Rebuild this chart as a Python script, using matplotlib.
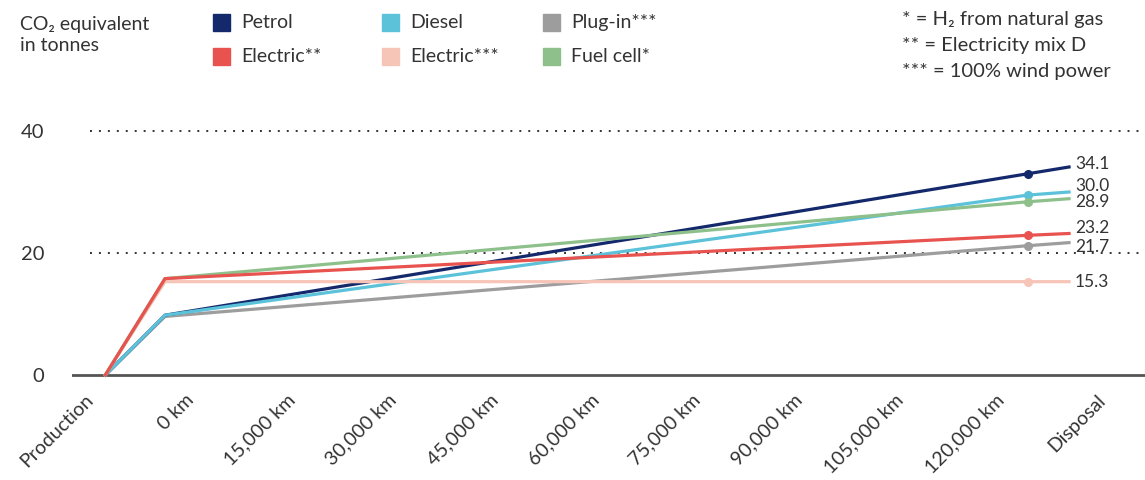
import numpy as np
import matplotlib.pyplot as plt
from matplotlib.patches import Rectangle

plt.rcParams['font.family'] = ['Lato', 'DejaVu Sans']
plt.rcParams['text.color'] = '#333333'

# life-cycle stages on the x axis (thousands of km; production and disposal sit just outside the use phase)
stage_x = [-8.3, 0, 120, 125.7]

# CO2 equivalent in tonnes at each stage
petrol = [0, 9.8, 33.0, 34.1]
diesel = [0, 9.8, 29.5, 30.0]
plugin = [0, 9.6, 21.2, 21.7]
electric_mix = [0, 15.8, 22.9, 23.2]
electric_wind = [0, 15.3, 15.3, 15.3]
fuel_cell = [0, 15.8, 28.4, 28.9]

tick_labels = ['Production', '0 km', '15,000 km', '30,000 km', '45,000 km', '60,000 km',
               '75,000 km', '90,000 km', '105,000 km', '120,000 km', 'Disposal']

series = [
    # name, values, colour, label offset
    ('Plug-in***', plugin, '#9d9d9d', -0.7),
    ('Petrol', petrol, '#13296b', 0.5),
    ('Diesel', diesel, '#5bc2da', 1.0),
    ('Electric***', electric_wind, '#f7c4b8', 0.0),
    ('Fuel cell*', fuel_cell, '#8dc08b', -0.5),
    ('Electric**', electric_mix, '#e8534f', 0.9),
]

fig = plt.figure(figsize=(11.45, 4.8), dpi=100)
px = 1 / 7.192  # data units per pixel along x
ax = fig.add_axes([72 / 1145, 100 / 480, 1 - 72 / 1145, 280 / 480])
ax.set_xlim(-93 * px, 980 * px)
ax.set_ylim(-5 / 6.1, 275 / 6.1)
for s in ax.spines.values():
    s.set_visible(False)

# dotted gridlines and solid zero line
ax.hlines([20, 40], -75 * px, 977 * px, colors='#333333',
          linestyles=(0, (1, 3.6)), lw=1.4)
ax.axhline(0, color='#555555', lw=2, zorder=1)

for name, vals, col, off in series:
    ax.plot(stage_x, vals, color=col, lw=2.3, marker='o', markevery=[2], ms=5.5,
            solid_joinstyle='miter', zorder=2)
    ax.text(stage_x[-1] + 6 * px, vals[-1] + off, f'{vals[-1]:.1f}', fontsize=12.5,
            va='center', ha='left', color='#333333')

# category labels are spread evenly under the plot
tick_pos = (np.linspace(84, 1097, len(tick_labels)) - 165) * px
ax.set_xticks(tick_pos)
ax.set_xticklabels(tick_labels, rotation=45, ha='right', rotation_mode='anchor', fontsize=14)
ax.set_yticks([0, 20, 40])
ax.set_yticklabels(['0', '20', '40'], fontsize=14.5)
ax.tick_params(length=0, axis='y', pad=20, labelcolor='#333333')
ax.tick_params(length=0, axis='x', pad=8, labelcolor='#333333')

# header: unit, legend and footnotes
fig.text(20 / 1145, 1 - 35 / 480, 'CO₂ equivalent\nin tonnes', fontsize=14, va='center', ha='left',
         linespacing=1.35)
legend_items = [('Petrol', '#13296b'), ('Electric**', '#e8534f'), ('Diesel', '#5bc2da'),
                ('Electric***', '#f7c4b8'), ('Plug-in***', '#9d9d9d'), ('Fuel cell*', '#8dc08b')]
col_x = [213, 382, 543]
row_y = [22.5, 56.5]
for i, (name, col) in enumerate(legend_items):
    x0 = col_x[i // 2]
    y0 = row_y[i % 2]
    fig.patches.append(Rectangle((x0 / 1145, 1 - (y0 + 8.5) / 480), 17 / 1145, 17 / 480,
                                 transform=fig.transFigure, color=col))
    fig.text((x0 + 28) / 1145, 1 - y0 / 480, name, fontsize=14, va='center', ha='left')

notes = ['* = H₂ from natural gas', '** = Electricity mix D', '*** = 100% wind power']
for i, t in enumerate(notes):
    fig.text(902 / 1145, 1 - (19 + 26 * i) / 480, t, fontsize=14.5, va='center', ha='left')

fig.savefig('out.png', dpi=100)
